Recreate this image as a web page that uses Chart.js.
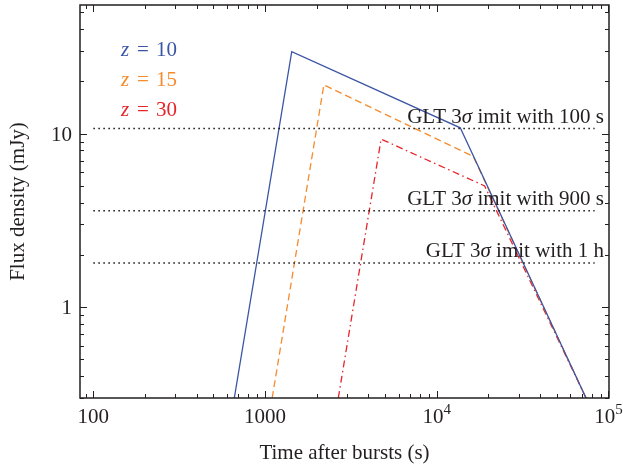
<!DOCTYPE html>
<html><head><meta charset="utf-8">
<script src="https://cdn.jsdelivr.net/npm/chart.js@4"></script>
<style>html,body{margin:0;padding:0;background:#fff}#wrap{width:623px;height:466px}</style>
</head><body><div id="wrap"><canvas id="c" width="623" height="466"></canvas></div>
<script>
// ---- data ----
const redshifts = [10, 15, 30];
const z10Time = [662, 1430, 13700, 74000];
const z10Flux = [0.3, 29.7, 10.8, 0.3];
const z15Time = [1100, 2200, 16300, 74000];
const z15Flux = [0.3, 19.1, 7.4, 0.3];
const z30Time = [2670, 4740, 19000, 74000];
const z30Flux = [0.3, 9.3, 5.0, 0.3];
const limitFlux = [10.7, 3.6, 1.8];
const limitExposure = ['100 s', '900 s', '1 h'];
const limitTimeRange = [100, 83000];
const xTickValues = [100, 1000, 10000, 100000];
const xTickLabels = ['100', '1000', '10^4', '10^5'];
const yTickValues = [1, 10];
const yTickLabels = ['1', '10'];

const FONT = '"Liberation Serif", "DejaVu Serif", serif';
const FS = 21;
const TXT = '#231f20';
const COLORS = ['#3b55a5', '#f58b2d', '#e8242b'];
const DASHES = [[], [7, 4], [7, 3.5, 1.5, 3.5]];

const pts = (xs, ys) => xs.map((x, i) => ({x: x, y: ys[i]}));
const series = [[z10Time, z10Flux], [z15Time, z15Flux], [z30Time, z30Flux]];

const datasets = [];
limitFlux.forEach((f, i) => {
  datasets.push({
    label: 'GLT limit ' + limitExposure[i],
    data: pts(limitTimeRange, [f, f]),
    borderColor: '#111', borderWidth: 1.5, borderDash: [1.5, 3.5],
    pointRadius: 0, tension: 0, fill: false
  });
});
series.forEach((s, i) => {
  datasets.push({
    label: 'z = ' + redshifts[i],
    data: pts(s[0], s[1]),
    borderColor: COLORS[i], borderWidth: 1.3, borderDash: DASHES[i],
    pointRadius: 0, tension: 0, fill: false
  });
});

function minorTicks(lo, hi) {
  const out = [];
  for (let e = Math.floor(Math.log10(lo)); e <= Math.ceil(Math.log10(hi)); e++) {
    for (let m = 1; m <= 9; m++) {
      const v = m * Math.pow(10, e);
      if (v >= lo * 0.999 && v <= hi * 1.001) out.push({v: v, major: m === 1});
    }
  }
  return out;
}

const decor = {
  id: 'decor',
  afterDatasetsDraw(chart) {
    const ctx = chart.ctx, a = chart.chartArea;
    const xs = chart.scales.x, ys = chart.scales.y;
    ctx.save();
    // frame
    ctx.strokeStyle = TXT; ctx.lineWidth = 1.5;
    ctx.strokeRect(a.left, a.top, a.right - a.left, a.bottom - a.top);
    ctx.lineWidth = 1;
    // ticks (all four sides, inward)
    minorTicks(xs.min, xs.max).forEach(t => {
      const p = Math.round(xs.getPixelForValue(t.v)) + 0.5;
      const L = t.major ? 7 : 4;
      ctx.beginPath();
      ctx.moveTo(p, a.bottom); ctx.lineTo(p, a.bottom - L);
      ctx.moveTo(p, a.top); ctx.lineTo(p, a.top + L);
      ctx.stroke();
    });
    minorTicks(ys.min, ys.max).forEach(t => {
      const p = Math.round(ys.getPixelForValue(t.v)) + 0.5;
      const L = t.major ? 7 : 4;
      ctx.beginPath();
      ctx.moveTo(a.left, p); ctx.lineTo(a.left + L, p);
      ctx.moveTo(a.right, p); ctx.lineTo(a.right - L, p);
      ctx.stroke();
    });
    ctx.fillStyle = TXT; ctx.textBaseline = 'alphabetic';
    // y tick labels
    yTickValues.forEach((v, i) => {
      ctx.font = FS + 'px ' + FONT; ctx.textAlign = 'right';
      ctx.fillText(yTickLabels[i], a.left - 8, ys.getPixelForValue(v) + 7);
    });
    // x tick labels
    xTickValues.forEach((v, i) => {
      const px = xs.getPixelForValue(v);
      const lab = xTickLabels[i];
      const by = 423;
      if (lab.indexOf('^') >= 0) {
        const [b, e] = lab.split('^');
        ctx.font = FS + 'px ' + FONT;
        const wb = ctx.measureText(b).width;
        ctx.font = '15px ' + FONT;
        const we = ctx.measureText(e).width;
        const x0 = px - (wb + we) / 2;
        ctx.textAlign = 'left';
        ctx.font = FS + 'px ' + FONT;
        ctx.fillText(b, x0, by);
        ctx.font = '15px ' + FONT;
        ctx.fillText(e, x0 + wb, by - 9);
      } else {
        ctx.font = FS + 'px ' + FONT;
        ctx.textAlign = 'center';
        ctx.fillText(lab, px, by);
      }
    });
    // legend
    const legY = [56, 86, 116];
    redshifts.forEach((z, i) => {
      ctx.fillStyle = COLORS[i]; ctx.textAlign = 'left';
      ctx.font = 'italic ' + FS + 'px ' + FONT;
      ctx.fillText('z', 121, legY[i]);
      ctx.font = FS + 'px ' + FONT;
      ctx.fillText('=', 137, legY[i]);
      ctx.fillText(String(z), 156, legY[i]);
    });
    // limit labels
    ctx.fillStyle = TXT;
    limitFlux.forEach((f, i) => {
      const y = ys.getPixelForValue(f) - 6;
      const parts = [['GLT 3', ''], ['\u03c3', 'italic '], [' imit with ' + limitExposure[i], '']];
      let w = 0;
      parts.forEach(p => { ctx.font = p[1] + FS + 'px ' + FONT; w += ctx.measureText(p[0]).width; });
      let x = 604 - w;
      ctx.textAlign = 'left';
      parts.forEach(p => { ctx.font = p[1] + FS + 'px ' + FONT; ctx.fillText(p[0], x, y); x += ctx.measureText(p[0]).width; });
    });
    ctx.restore();
  }
};

new Chart(document.getElementById('c'), {
  type: 'line',
  data: {datasets: datasets},
  options: {
    responsive: false, animation: false, devicePixelRatio: 1,
    layout: {padding: {top: 5, right: 14, left: 0, bottom: 0}},
    plugins: {legend: {display: false}, tooltip: {enabled: false}},
    scales: {
      x: {
        type: 'logarithmic', min: 83.6, max: 100700, position: 'bottom',
        grid: {display: false, drawTicks: false}, border: {display: false},
        ticks: {display: false},
        title: {display: true, text: 'Time after bursts (s)', color: TXT,
                font: {family: FONT, size: FS}, padding: {top: 1, bottom: 0}},
        afterFit: s => { s.height = 68; }
      },
      y: {
        type: 'logarithmic', min: 0.3, max: 55.1,
        grid: {display: false, drawTicks: false}, border: {display: false},
        ticks: {display: false},
        title: {display: true, text: 'Flux density (mJy)', color: TXT,
                font: {family: FONT, size: FS}, padding: {top: 6, bottom: 0}},
        afterFit: s => { s.width = 80; }
      }
    }
  },
  plugins: [decor]
});
</script></body></html>
